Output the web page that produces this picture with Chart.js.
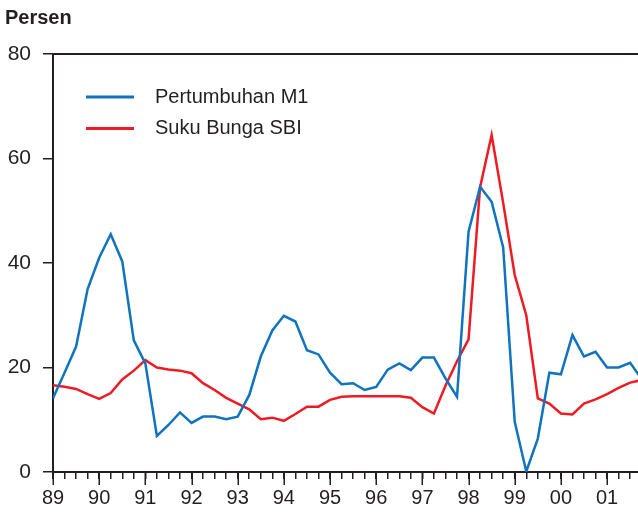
<!DOCTYPE html>
<html>
<head>
<meta charset="utf-8">
<script src="https://cdn.jsdelivr.net/npm/chart.js@4"></script>
<style>
  html, body { margin: 0; padding: 0; background: #fff; }
  #wrap { width: 638px; height: 512px; position: relative; }
</style>
</head>
<body>
<div id="wrap"><canvas id="myChart"></canvas></div>
<script>
// quarterly data, 1989Q1 .. 2001Q4
const startYear = 89;
const yearLabels = ['89', '90', '91', '92', '93', '94', '95', '96', '97', '98', '99', '00', '01'];
const seriesNames = ['Pertumbuhan M1', 'Suku Bunga SBI'];
const m1Growth = [
  14.1, 19.0, 24.0, 35.0,
  41.0, 45.5, 40.3, 25.2,
  20.8, 6.9, 9.0, 11.4,
  9.4, 10.6, 10.6, 10.1,
  10.6, 14.7, 22.1, 27.1,
  29.9, 28.8, 23.3, 22.5,
  19.0, 16.8, 17.0, 15.7,
  16.3, 19.6, 20.8, 19.5,
  21.9, 21.9, 17.9, 14.4,
  46.0, 54.6, 51.7, 43.0,
  9.6, 0.1, 6.4, 19.0,
  18.7, 26.2, 22.1, 23.0,
  20.0, 20.0, 20.9, 17.8
];
const sbiRate = [
  16.6, 16.3, 15.9, 14.9,
  14.0, 15.1, 17.7, 19.4,
  21.4, 20.0, 19.6, 19.4,
  18.9, 17.0, 15.7, 14.2,
  13.1, 12.0, 10.1, 10.4,
  9.8, 11.1, 12.5, 12.5,
  13.8, 14.4, 14.5, 14.5,
  14.5, 14.5, 14.5, 14.2,
  12.4, 11.2, 16.5, 21.2,
  25.4, 54.5, 64.5, 51.5,
  37.7, 30.0, 14.1, 13.1,
  11.2, 11.0, 13.1, 13.9,
  14.9, 16.1, 17.1, 17.6
];
const colors = ['#0f73bd', '#ed1c24'];
const ink = '#231f20';
const font = '"Liberation Sans", Arial, sans-serif';

const toPoints = (arr) => arr.map((v, i) => ({ x: startYear + i / 4, y: v }));

// title, legend, top frame line, longer ticks on the years
const decor = {
  id: 'decor',
  afterDraw(chart) {
    const c = chart.ctx;
    const a = chart.chartArea;
    c.save();
    c.strokeStyle = ink;
    c.lineWidth = 2;
    c.beginPath();
    c.moveTo(a.left - 1, a.top);
    c.lineTo(a.right, a.top);
    c.stroke();

    const xs = chart.scales.x;
    c.lineWidth = 1.5;
    yearLabels.forEach((lab, k) => {
      const px = Math.round(xs.getPixelForValue(startYear + k)) + 0.25;
      c.beginPath();
      c.moveTo(px, a.bottom);
      c.lineTo(px, a.bottom + 13);
      c.stroke();
    });

    c.fillStyle = ink;
    c.font = 'bold 20px ' + font;
    c.textBaseline = 'alphabetic';
    c.fillText('Persen', 5, 24);

    c.font = '20px ' + font;
    c.textBaseline = 'middle';
    seriesNames.forEach((name, i) => {
      const y = 97 + i * 31.5;
      c.strokeStyle = colors[i];
      c.lineWidth = 3;
      c.beginPath();
      c.moveTo(86, y);
      c.lineTo(134, y);
      c.stroke();
      c.fillStyle = ink;
      c.fillText(name, 155, y);
    });
    c.restore();
  }
};

let ctx = document.getElementById('myChart').getContext('2d');
let myChart = new Chart(ctx, {
  type: 'line',
  data: {
    datasets: [{
      label: seriesNames[0],
      data: toPoints(m1Growth),
      borderColor: colors[0],
      borderWidth: 2.5,
      pointRadius: 0,
      tension: 0
    }, {
      label: seriesNames[1],
      data: toPoints(sbiRate),
      borderColor: colors[1],
      borderWidth: 2.5,
      pointRadius: 0,
      tension: 0
    }]
  },
  options: {
    responsive: true,
    maintainAspectRatio: false,
    animation: false,
    layout: { padding: { top: 54, right: 0, left: 0, bottom: 0 } },
    plugins: {
      legend: { display: false },
      tooltip: { enabled: false }
    },
    scales: {
      x: {
        type: 'linear',
        min: 89,
        max: 101.67,
        afterBuildTicks: (scale) => {
          const t = [];
          for (let i = 0; i < 51; i++) t.push({ value: startYear + i / 4 });
          scale.ticks = t;
        },
        afterFit: (scale) => { scale.height = 40; },
        border: { display: true, color: ink, width: 2 },
        grid: { drawOnChartArea: false, drawTicks: true, tickLength: 7, color: ink, lineWidth: 1.5 },
        ticks: {
          autoSkip: false,
          maxRotation: 0,
          padding: 7,
          color: ink,
          font: { family: font, size: 20 },
          callback: (value) => {
            const k = value - startYear;
            return Number.isInteger(k) ? yearLabels[k] : '';
          }
        }
      },
      y: {
        min: 0,
        max: 80,
        afterFit: (scale) => { scale.width = 53; },
        border: { display: true, color: ink, width: 2 },
        grid: { drawOnChartArea: false, drawTicks: true, tickLength: 10, color: ink, lineWidth: 1.5 },
        ticks: {
          stepSize: 20,
          padding: 12,
          color: ink,
          font: { family: font, size: 21 }
        }
      }
    }
  },
  plugins: [decor]
});
</script>
</body>
</html>
